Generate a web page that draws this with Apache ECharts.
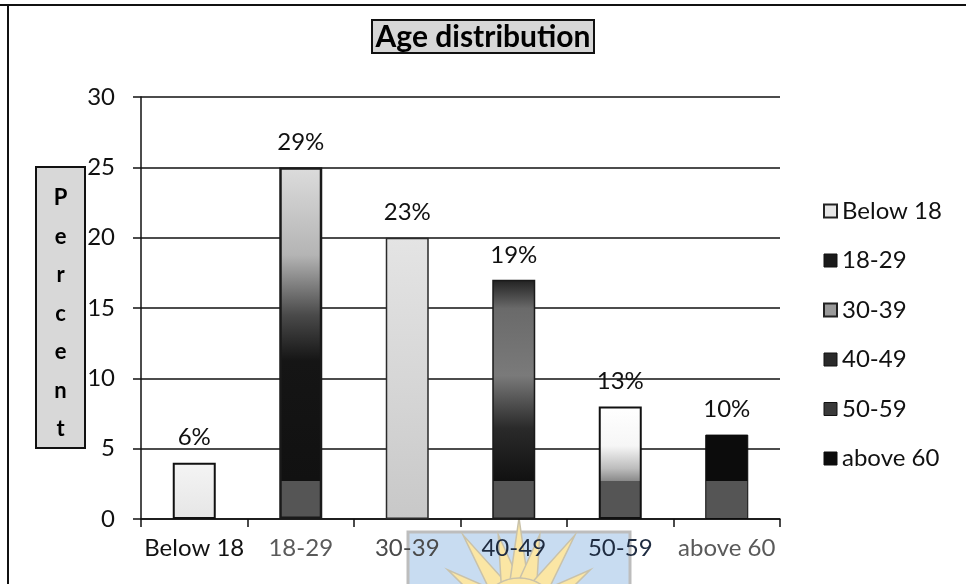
<!DOCTYPE html>
<html>
<head>
<meta charset="utf-8">
<script src="https://cdn.jsdelivr.net/npm/echarts@6/dist/echarts.min.js"></script>
<style>
  html, body { margin: 0; padding: 0; background: #fff; }
  #chart { width: 966px; height: 584px; }
</style>
</head>
<body>
<div id="chart"></div>
<script>
// Age groups and bar heights (percent axis)
const categories = ['Below 18', '18-29', '30-39', '40-49', '50-59', 'above 60'];
const values = [4, 25, 20, 17, 8, 6];
// Share labels printed above each bar
const shareLabels = ['6%', '29%', '23%', '19%', '13%', '10%'];
// Value axis range
const yMin = 0, yMax = 30, yStep = 5;

const FONT = 'Lato';
const BAND = 2.7; // height of the grey foot shading on the dark bars

function grad(stops) {
  return { type: 'linear', x: 0, y: 0, x2: 0, y2: 1,
    colorStops: stops.map(s => ({ offset: s[0], color: s[1] })) };
}
function footAt(v) { return 1 - BAND / v; }

const barStyles = [
  { color: grad([[0, '#f4f4f4'], [1, '#e6e6e6']]), borderColor: '#111', borderWidth: 2 },
  { color: grad([[0, '#dcdcdc'], [0.25, '#b4b4b4'], [0.42, '#4a4a4a'], [0.55, '#151515'],
                 [footAt(values[1]) - 0.001, '#111'], [footAt(values[1]), '#555'], [1, '#555']]),
    borderColor: '#1a1a1a', borderWidth: 2.5 },
  { color: grad([[0, '#e4e4e4'], [0.6, '#d4d4d4'], [1, '#c8c8c8']]), borderColor: '#2a2a2a', borderWidth: 1.5 },
  { color: grad([[0, '#222'], [0.12, '#6a6a6a'], [0.4, '#7a7a7a'], [0.62, '#2a2a2a'],
                 [footAt(values[3]) - 0.001, '#111'], [footAt(values[3]), '#555'], [1, '#555']]),
    borderColor: '#1a1a1a', borderWidth: 1.5 },
  { color: grad([[0, '#ffffff'], [0.35, '#f6f6f6'], [0.55, '#bdbdbd'],
                 [footAt(values[4]) - 0.001, '#8a8a8a'], [footAt(values[4]), '#555'], [1, '#555']]),
    borderColor: '#111', borderWidth: 2 },
  { color: grad([[0, '#0c0c0c'], [footAt(values[5]) - 0.001, '#0c0c0c'], [footAt(values[5]), '#555'], [1, '#555']]),
    borderColor: '#0c0c0c', borderWidth: 1 }
];

const legendIcons = [
  { color: '#e6e6e6', borderColor: '#222', borderWidth: 2 },
  { color: '#1a1a1a', borderColor: '#111', borderWidth: 1 },
  { color: '#9a9a9a', borderColor: '#222', borderWidth: 2 },
  { color: '#2a2a2a', borderColor: '#111', borderWidth: 1 },
  { color: '#3a3a3a', borderColor: '#111', borderWidth: 1 },
  { color: '#0c0c0c', borderColor: '#0c0c0c', borderWidth: 1 }
];

const labelColors = ['#111', '#5a5a5a', '#4a4a4a', '#1e2b40', '#1e2b40', '#5a5a5a'];

// Sun badge in the bottom margin
function sunBadge() {
  const cx = 519, cy = 618, r = 40;
  const items = [{
    type: 'rect', z: -2, shape: { x: 408, y: 532, width: 222, height: 60 },
    style: { fill: '#c8dcf1', stroke: '#bdbdbd', lineWidth: 3 }
  }];
  const angles = [-168, -146, -124, -104, -90, -76, -56, -34, -12];
  angles.forEach((a, k) => {
    const t = a * Math.PI / 180;
    const len = (k % 2 === 0) ? 100 : 86;
    const w = 0.22;
    const tip = [cx + Math.cos(t) * len, cy + Math.sin(t) * len];
    const b1 = [cx + Math.cos(t - w) * r, cy + Math.sin(t - w) * r];
    const b2 = [cx + Math.cos(t + w) * r, cy + Math.sin(t + w) * r];
    items.push({ type: 'polygon', z: -1, shape: { points: [b1, tip, b2] },
      style: { fill: '#fbe6a4', stroke: '#c9c2aa', lineWidth: 1.5 } });
  });
  items.push({ type: 'circle', z: -1, shape: { cx: cx, cy: cy, r: r },
    style: { fill: '#fbe6a4', stroke: '#c9c2aa', lineWidth: 1.5 } });
  return items;
}

const chart = echarts.init(document.getElementById('chart'), null, { renderer: 'canvas' });

chart.setOption({
  animation: false,
  backgroundColor: '#fff',
  title: {
    text: 'Age distribution',
    left: 'center',
    top: 20,
    padding: [2, 4, 1, 4],
    backgroundColor: '#d6d6d6',
    borderColor: '#111',
    borderWidth: 2,
    textStyle: { fontFamily: FONT, fontWeight: 'bold', fontSize: 30, color: '#000' }
  },
  legend: {
    orient: 'vertical',
    left: 823,
    top: 199,
    padding: 0,
    itemWidth: 13,
    itemHeight: 13,
    itemGap: 25.5,
    icon: 'rect',
    selectedMode: false,
    textStyle: { fontFamily: FONT, fontSize: 24, color: '#111', lineHeight: 22 },
    data: categories.map((c, i) => ({ name: c, itemStyle: legendIcons[i] }))
  },
  grid: { left: 141, top: 97, right: 186, bottom: 65, containLabel: false },
  xAxis: {
    type: 'category',
    data: categories,
    boundaryGap: true,
    axisLine: { show: true, lineStyle: { color: '#111', width: 1.5 } },
    axisTick: { show: true, alignWithLabel: false, length: 8, lineStyle: { color: '#111', width: 1.5 } },
    axisLabel: {
      interval: 0, margin: 17, fontFamily: FONT, fontSize: 24,
      color: (v) => labelColors[categories.indexOf(v)]
    },
    splitLine: { show: false }
  },
  yAxis: {
    type: 'value',
    min: yMin, max: yMax, interval: yStep,
    axisLine: { show: true, lineStyle: { color: '#111', width: 1.5 } },
    axisTick: { show: true, inside: false, length: 8, lineStyle: { color: '#111', width: 1.5 } },
    axisLabel: { margin: 26, fontFamily: FONT, fontSize: 24, color: '#111' },
    splitLine: { show: true, lineStyle: { color: '#111', width: 1.5 } }
  },
  series: categories.map((name, i) => ({
    name: name,
    type: 'bar',
    stack: 'age',
    barWidth: 43,
    data: categories.map((_, j) => (j === i ? values[i] : '-')),
    itemStyle: barStyles[i],
    emphasis: { disabled: true },
    label: {
      show: true, position: 'top', distance: 13,
      formatter: () => shareLabels[i],
      fontFamily: FONT, fontSize: 24, color: '#111'
    }
  })),
  graphic: [
    // outer frame edges
    { type: 'line', shape: { x1: 0, y1: 5, x2: 966, y2: 5 }, style: { stroke: '#111', lineWidth: 2 } },
    { type: 'line', shape: { x1: 8, y1: 5, x2: 8, y2: 584 }, style: { stroke: '#111', lineWidth: 2 } },
    // vertical axis caption box
    { type: 'rect', shape: { x: 36, y: 167, width: 49, height: 281 },
      style: { fill: '#d8d8d8', stroke: '#111', lineWidth: 2 } },
    { type: 'text', x: 60.5, y: 179,
      style: { text: 'P\ne\nr\nc\ne\nn\nt', fill: '#000', font: 'bold 22px Lato',
               align: 'center', verticalAlign: 'top', lineHeight: 38.5 } }
  ].concat(sunBadge())
});
</script>
</body>
</html>
